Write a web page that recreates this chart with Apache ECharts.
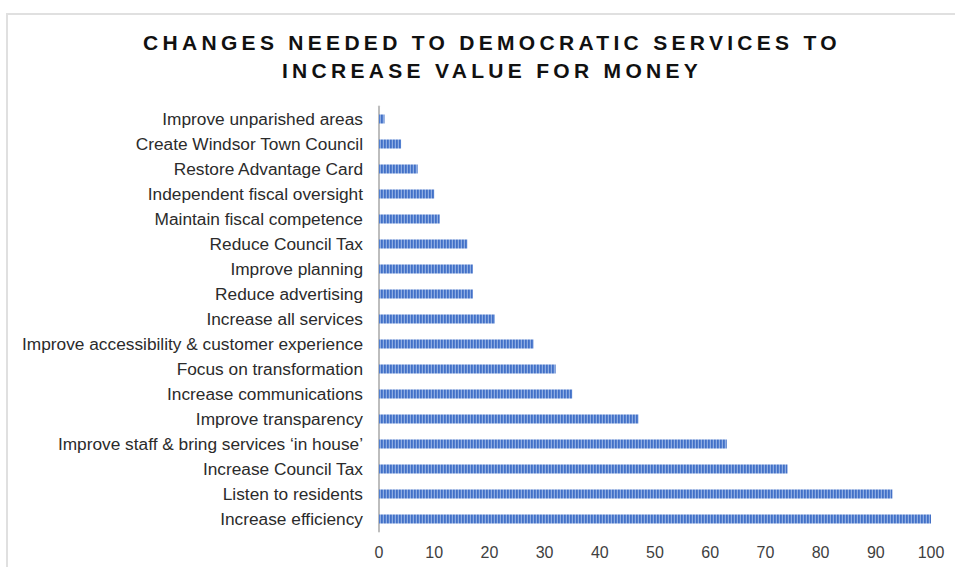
<!DOCTYPE html>
<html>
<head>
<meta charset="utf-8">
<script src="https://cdn.jsdelivr.net/npm/echarts@6/dist/echarts.min.js"></script>
<style>
  html, body { margin: 0; padding: 0; background: #ffffff; }
  #chart { width: 955px; height: 567px; }
  /* spaced-out capitals for the bold heading */
  #chart svg text[style*="bold"],
  #chart svg text[font-weight="bold"] { letter-spacing: 4.3px; }
</style>
</head>
<body>
<div id="chart"></div>
<script>
// Responses grouped by suggested change (top to bottom)
const categories = [
  'Improve unparished areas',
  'Create Windsor Town Council',
  'Restore Advantage Card',
  'Independent fiscal oversight',
  'Maintain fiscal competence',
  'Reduce Council Tax',
  'Improve planning',
  'Reduce advertising',
  'Increase all services',
  'Improve accessibility & customer experience',
  'Focus on transformation',
  'Increase communications',
  'Improve transparency',
  'Improve staff & bring services \u2018in house\u2019',
  'Increase Council Tax',
  'Listen to residents',
  'Increase efficiency'
];
const responses = [1, 4, 7, 10, 11, 16, 17, 17, 21, 28, 32, 35, 47, 63, 74, 93, 100];
const xTicks = { min: 0, max: 100, step: 10 };
const titleLines = ['CHANGES NEEDED TO DEMOCRATIC SERVICES TO', 'INCREASE VALUE FOR MONEY'];

// Fine vertical striping used as the bar fill
function stripeImage() {
  const c = document.createElement('canvas');
  c.width = 3; c.height = 1;
  const g = c.getContext('2d');
  const cols = ['#4370c6', '#5380d0', '#8fade2'];
  cols.forEach((col, i) => { g.fillStyle = col; g.fillRect(i, 0, 1, 1); });
  return c.toDataURL();
}

const chart = echarts.init(document.getElementById('chart'), null, { renderer: 'svg' });

chart.setOption({
  backgroundColor: '#ffffff',
  animation: false,
  title: {
    text: titleLines.join('\n'),
    left: 487,
    textAlign: 'center',
    top: 23,
    textStyle: {
      fontFamily: 'Liberation Sans, Arial, sans-serif',
      fontWeight: 'bold',
      fontSize: 21,
      lineHeight: 28,
      color: '#111111'
    }
  },
  graphic: [{
    type: 'rect',
    silent: true,
    z: -1,
    shape: { x: 7, y: 14, width: 1000, height: 600 },
    style: { fill: 'none', stroke: '#e0e0e0', lineWidth: 2 }
  }],
  grid: { left: 379, right: 24, top: 106.5, height: 425, containLabel: false },
  xAxis: {
    type: 'value',
    min: xTicks.min,
    max: xTicks.max,
    interval: xTicks.step,
    axisLine: { show: false },
    axisTick: { show: false },
    splitLine: { show: false },
    axisLabel: {
      margin: 13,
      fontFamily: 'Liberation Sans, Arial, sans-serif',
      fontSize: 16,
      color: '#404040'
    }
  },
  yAxis: {
    type: 'category',
    data: categories,
    inverse: true,
    axisLine: { show: true, lineStyle: { color: '#bdbdbd', width: 2 } },
    axisTick: { show: false },
    splitLine: { show: false },
    axisLabel: {
      margin: 16,
      fontFamily: 'Liberation Sans, Arial, sans-serif',
      fontSize: 17.3,
      color: '#2b2b2b'
    }
  },
  series: [{
    type: 'bar',
    data: responses,
    barWidth: 9,
    itemStyle: {
      color: {
        image: stripeImage(),
        repeat: 'repeat',
        imageWidth: 3,
        imageHeight: 1
      }
    }
  }]
});
</script>
</body>
</html>
